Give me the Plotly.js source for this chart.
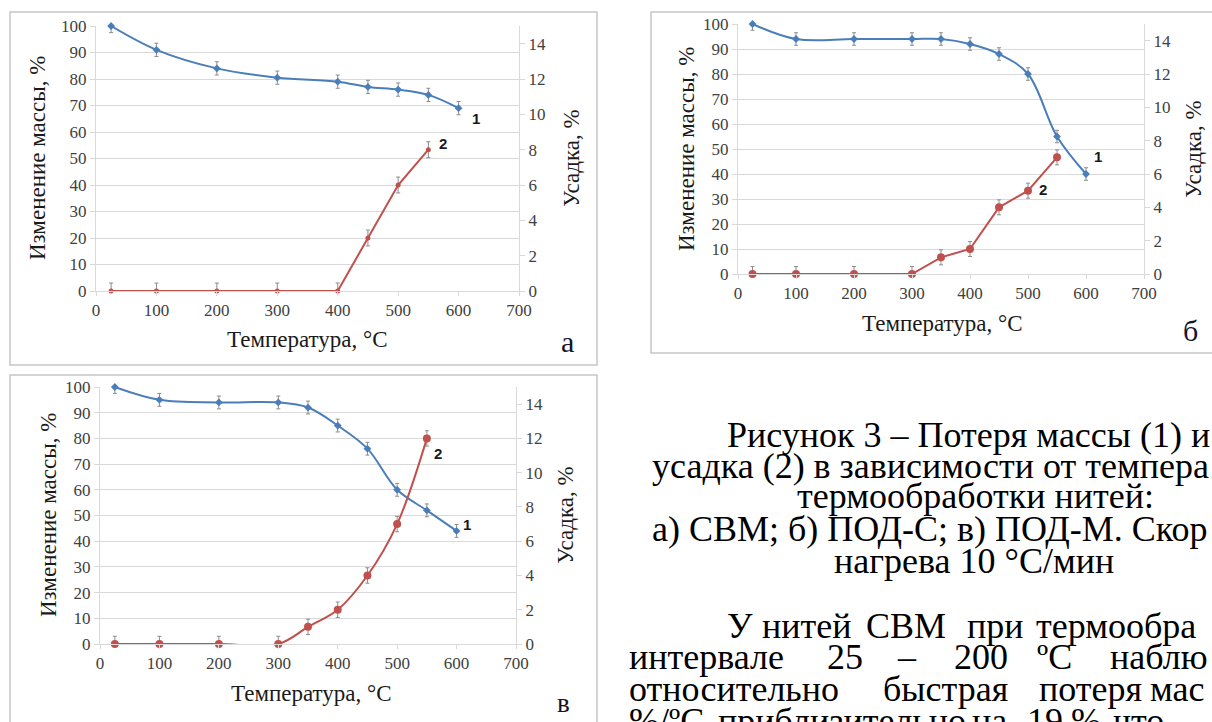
<!DOCTYPE html>
<html>
<head>
<meta charset="utf-8">
<script src="https://cdn.plot.ly/plotly-3.0.1.min.js"></script>
<style>
html,body{margin:0;padding:0;background:#fff;overflow:hidden;}
#chart{width:1212px;height:722px;}
</style>
</head>
<body>
<div id="chart"></div>
<script>
// ---------- data ----------
const tempA = [25, 100, 200, 300, 400, 450, 500, 550, 600];
const massA = [100, 91, 84, 80.5, 79, 77, 76, 74, 69];
const tempShrinkA = [25, 100, 200, 300, 400, 450, 500, 550];
const shrinkA = [0, 0, 0, 0, 0, 3, 6, 8];

const tempB = [25, 100, 200, 300, 350, 400, 450, 500, 550, 600];
const massB = [100, 94, 94, 94, 94, 92, 88, 80, 55, 40];
const tempShrinkB = [25, 100, 200, 300, 350, 400, 450, 500, 550];
const shrinkB = [0, 0, 0, 0, 1, 1.5, 4, 5, 7];

const tempV = [25, 100, 200, 300, 350, 400, 450, 500, 550, 600];
const massV = [100, 95, 94, 94, 92, 85, 76, 60, 52, 44];
const tempShrinkV = [25, 100, 200, 300, 350, 400, 450, 500, 550];
const shrinkV = [0, 0, 0, 0, 1, 2, 4, 7, 12];

const massErr = 2.5;
const shrinkErr = 0.45;

const xTitle = "Температура, °C";
const yLeftTitle = "Изменение массы, %";
const yRightTitle = "Усадка, %";
const panelLetters = ["а", "б", "в"];

const captionLines = [
  "Рисунок 3 – Потеря массы (1) и",
  "усадка (2) в зависимости от температуры",
  "термообработки нитей:",
  "а) СВМ; б) ПОД-С; в) ПОД-М. Скорость",
  "нагрева 10 °С/мин"
];
const paragraphWords = [
  ["У", "нитей", "СВМ", "при", "термообработке"],
  ["интервале", "25", "–", "200", "ºС", "наблюдается"],
  ["относительно", "быстрая", "потеря", "массы"],
  ["%/ºС", "приблизительно", "на", "19", "%", "что"]
];

// ---------- layout helpers ----------
const W = 1212, H = 722;
const px = v => v / W;
const py = v => 1 - v / H;

const BLUE = "#4a7ebb";
const RED = "#c0504d";
const GRID = "#d9d9d9";
const SERIF = "Liberation Serif";
const SANS = "Liberation Sans";

const tickFont = {family: SERIF, size: 17, color: "#404040"};

// trim a text so it ends inside the picture's right edge
const cv = document.createElement("canvas").getContext("2d");
function fitRight(text, x, size) {
  cv.font = size + 'px "Liberation Serif"';
  let t = text;
  while (t.length > 0 && x + cv.measureText(t).width > W - 1) t = t.slice(0, -1);
  return t.replace(/\s+$/, "");
}

function xAxis(l, r, anchor) {
  return {
    domain: [px(l), px(r)], anchor: anchor, range: [0, 700], dtick: 100, tick0: 0,
    showgrid: false, zeroline: false, showline: true, linecolor: GRID, linewidth: 1,
    ticks: "outside", ticklen: 4, tickcolor: GRID, tickfont: tickFont, fixedrange: true
  };
}
function yLeft(top, bottom, anchor) {
  return {
    domain: [py(bottom), py(top)], anchor: anchor, range: [0, 100], dtick: 10, tick0: 0,
    showgrid: true, gridcolor: GRID, gridwidth: 1, zeroline: false, showline: true,
    linecolor: GRID, ticks: "outside", ticklen: 5, tickcolor: GRID, tickfont: tickFont, fixedrange: true
  };
}
function yRight(over, anchor) {
  return {
    overlaying: over, side: "right", anchor: anchor, range: [0, 15], dtick: 2, tick0: 0,
    showgrid: false, zeroline: false, showline: true, linecolor: GRID,
    ticks: "outside", ticklen: 5, tickcolor: GRID, tickfont: tickFont, fixedrange: true
  };
}

function massTrace(x, y, xa, ya) {
  return {
    x: x, y: y, xaxis: xa, yaxis: ya, type: "scatter", mode: "lines+markers", cliponaxis: false,
    line: {color: BLUE, width: 2, shape: "spline", smoothing: 1},
    marker: {symbol: "diamond", size: 6, color: BLUE},
    error_y: {type: "constant", value: massErr, color: "#8c8c8c", thickness: 1, width: 2},
    hoverinfo: "skip"
  };
}
function shrinkTrace(x, y, xa, ya, shape, msize) {
  return {
    x: x, y: y, xaxis: xa, yaxis: ya, type: "scatter", mode: "lines+markers", cliponaxis: false,
    line: {color: RED, width: 2, shape: shape, smoothing: 1},
    marker: {symbol: "circle", size: msize, color: RED},
    error_y: {type: "constant", value: shrinkErr, color: "#8c8c8c", thickness: 1, width: 2},
    hoverinfo: "skip"
  };
}

const data = [
  massTrace(tempA, massA, "x", "y"),
  shrinkTrace(tempShrinkA, shrinkA, "x", "y2", "linear", 5),
  massTrace(tempB, massB, "x2", "y3"),
  shrinkTrace(tempShrinkB, shrinkB, "x2", "y4", "linear", 8),
  massTrace(tempV, massV, "x3", "y5"),
  shrinkTrace(tempShrinkV, shrinkV, "x3", "y6", "spline", 8)
];

// panel geometry (pixels)
const panels = [
  {l: 96, r: 519, t: 26, b: 291, frame: [10, 12, 597, 365],
   yl: [37, 158], yr: [571, 158], xt: [307, 340], let: [567, 341], letSize: 30,
   n1: [629, 65], n2: [574, 55.5], xa: "x", ya: "y"},
  {l: 738, r: 1144, t: 24, b: 274, frame: [651, 12, 1230, 353],
   yl: [686, 149], yr: [1193, 149], xt: [942, 323], let: [1190, 331], letSize: 30,
   n1: [621, 47], n2: [526, 34], xa: "x2", ya: "y3"},
  {l: 100, r: 516, t: 387, b: 644, frame: [10, 375, 597, 740],
   yl: [48, 515], yr: [565, 515], xt: [311, 693], let: [563, 703], letSize: 27,
   n1: [617, 46.5], n2: [569, 74], xa: "x3", ya: "y5"}
];

const annotations = [];
const shapes = [];
panels.forEach((p, i) => {
  const f = p.frame;
  shapes.push({type: "rect", xref: "paper", yref: "paper",
    x0: px(f[0]), x1: px(f[2]), y0: py(f[3]), y1: py(f[1]),
    line: {color: "#c6c6c6", width: 1.5}, fillcolor: "rgba(0,0,0,0)", layer: "below"});
  annotations.push({xref: "paper", yref: "paper", x: px(p.yl[0]), y: py(p.yl[1]),
    text: yLeftTitle, textangle: -90, showarrow: false, xanchor: "center", yanchor: "middle",
    font: {family: SERIF, size: 23, color: "#1a1a1a"}});
  annotations.push({xref: "paper", yref: "paper", x: px(p.yr[0]), y: py(p.yr[1]),
    text: yRightTitle, textangle: -90, showarrow: false, xanchor: "center", yanchor: "middle",
    font: {family: SERIF, size: 23, color: "#1a1a1a"}});
  annotations.push({xref: "paper", yref: "paper", x: px(p.xt[0]), y: py(p.xt[1]),
    text: xTitle, showarrow: false, xanchor: "center", yanchor: "middle",
    font: {family: SERIF, size: 23, color: "#1a1a1a"}});
  annotations.push({xref: "paper", yref: "paper", x: px(p.let[0]), y: py(p.let[1]),
    text: panelLetters[i], showarrow: false, xanchor: "center", yanchor: "middle",
    font: {family: SERIF, size: p.letSize, color: "#14142a"}});
  annotations.push({xref: p.xa, yref: p.ya, x: p.n1[0], y: p.n1[1], text: "<b>1</b>",
    showarrow: false, xanchor: "center", yanchor: "middle",
    font: {family: SANS, size: 15, color: "#1a1a1a"}});
  annotations.push({xref: p.xa, yref: p.ya, x: p.n2[0], y: p.n2[1], text: "<b>2</b>",
    showarrow: false, xanchor: "center", yanchor: "middle",
    font: {family: SANS, size: 15, color: "#1a1a1a"}});
});

// caption & paragraph text
const FS = 36;
const capX = [725, 650, 795, 650, 832];
const capBase = [446, 477, 507, 540, 572];
captionLines.forEach((t, i) => {
  annotations.push({xref: "paper", yref: "paper", x: px(capX[i]), y: py(capBase[i] - 0.3 * FS),
    text: fitRight(t, capX[i], FS), showarrow: false, xanchor: "left", yanchor: "middle",
    font: {family: SERIF, size: FS, color: "#000"}});
});
const parX = [
  [725, 760, 864, 965, 1034],
  [627, 825, 895, 952, 1035, 1108],
  [627, 881, 1037, 1148],
  [627, 716, 970, 1025, 1069, 1111]
];
const parBase = [637, 668, 700, 732];
paragraphWords.forEach((words, li) => {
  words.forEach((w, wi) => {
    const x = parX[li][wi];
    annotations.push({xref: "paper", yref: "paper", x: px(x), y: py(parBase[li] - 0.3 * FS),
      text: fitRight(w, x, FS), showarrow: false, xanchor: "left", yanchor: "middle",
      font: {family: SERIF, size: FS, color: "#000"}});
  });
});

const layout = {
  width: W, height: H, margin: {l: 0, r: 0, t: 0, b: 0},
  paper_bgcolor: "#ffffff", plot_bgcolor: "rgba(0,0,0,0)", showlegend: false,
  xaxis: xAxis(panels[0].l, panels[0].r, "y"),
  yaxis: yLeft(panels[0].t, panels[0].b, "x"),
  yaxis2: yRight("y", "x"),
  xaxis2: xAxis(panels[1].l, panels[1].r, "y3"),
  yaxis3: yLeft(panels[1].t, panels[1].b, "x2"),
  yaxis4: yRight("y3", "x2"),
  xaxis3: xAxis(panels[2].l, panels[2].r, "y5"),
  yaxis5: yLeft(panels[2].t, panels[2].b, "x3"),
  yaxis6: yRight("y5", "x3"),
  shapes: shapes,
  annotations: annotations
};

Plotly.newPlot("chart", data, layout, {staticPlot: true, displayModeBar: false});
</script>
</body>
</html>
